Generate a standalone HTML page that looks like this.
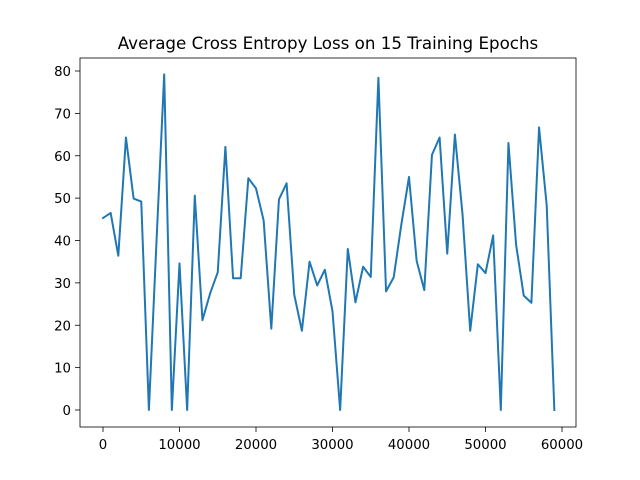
<!DOCTYPE html>
<html><head><meta charset="utf-8"><style>
body{margin:0;background:#fff}
svg{display:block;font-family:"DejaVu Sans","Liberation Sans",sans-serif}
</style></head><body>
<svg id="chart" width="640" height="480" viewBox="0 0 640 480">
<rect width="640" height="480" fill="#fff"/>
<text x="328" y="49" font-size="16.7" text-anchor="middle">Average Cross Entropy Loss on 15 Training Epochs</text>
<g id="xt"></g>
<g id="yt"></g>
<path id="line" fill="none" stroke="#1f77b4" stroke-width="2" stroke-linejoin="round" stroke-linecap="square"/>
<rect x="80" y="58" width="496" height="369" fill="none" stroke="#000" stroke-width="0.8"/>
</svg>
<script>
const steps = [];
for (let i = 0; i < 60; i++) steps.push(i * 1000);
const lossValues = [45.3,46.5,36.4,64.3,49.9,49.2,0,40,79.2,0,34.6,0,50.6,21.2,27.5,32.5,62.1,31.1,31.1,54.7,52.3,44.7,19.2,49.7,53.5,27.2,18.7,35,29.4,33.1,23.3,0,38,25.4,33.8,31.4,78.4,28,31.3,43.8,55,35.2,28.3,60.2,64.3,36.9,65,46.1,18.7,34.4,32.3,41.2,0,63,39,27,25.3,66.7,48.3,0];
const xTicks = [0,10000,20000,30000,40000,50000,60000];
const yTicks = [0,10,20,30,40,50,60,70,80];
function xs(v){return 103 + v*(459/60000);}
function ys(v){return 410 - v*(339/80);}
const ns="http://www.w3.org/2000/svg";
const xg=document.getElementById('xt'), yg=document.getElementById('yt');
xTicks.forEach(t=>{
  const l=document.createElementNS(ns,'line');
  l.setAttribute('x1',xs(t));l.setAttribute('x2',xs(t));l.setAttribute('y1',427);l.setAttribute('y2',432);l.setAttribute('stroke','#000');l.setAttribute('stroke-width','0.8');
  
  
  xg.appendChild(l);
  const tx=document.createElementNS(ns,'text');
  tx.setAttribute('x',xs(t));tx.setAttribute('y',449);tx.setAttribute('font-size','13.3');tx.setAttribute('text-anchor','middle');tx.textContent=t;
  
  
  xg.appendChild(tx);
});
yTicks.forEach(t=>{
  const l=document.createElementNS(ns,'line');
  l.setAttribute('x1',75);l.setAttribute('x2',80);l.setAttribute('y1',ys(t));l.setAttribute('y2',ys(t));l.setAttribute('stroke','#000');l.setAttribute('stroke-width','0.8');
  
  
  yg.appendChild(l);
  const tx=document.createElementNS(ns,'text');
  tx.setAttribute('x',71);tx.setAttribute('y',ys(t)+5);tx.setAttribute('font-size','13.3');tx.setAttribute('text-anchor','end');tx.textContent=t;
  
  
  yg.appendChild(tx);
});
document.getElementById('line').setAttribute('d', lossValues.map((v,i)=>(i?'L':'M')+xs(steps[i]).toFixed(2)+','+ys(v).toFixed(2)).join(''));
</script>
</body></html>
